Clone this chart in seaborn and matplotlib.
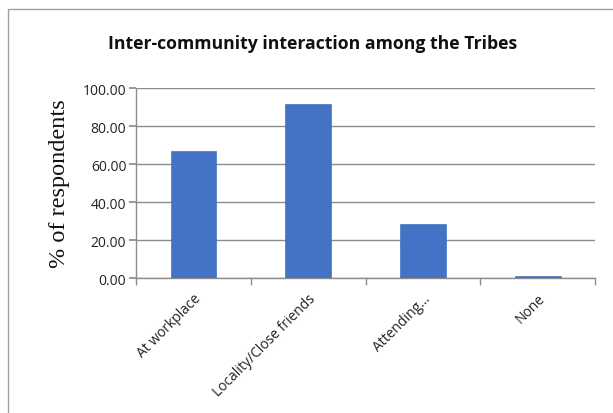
import matplotlib
matplotlib.use("Agg")
import matplotlib.pyplot as plt
import seaborn as sns
import pandas as pd
from matplotlib.patches import Rectangle

categories = ["At workplace", "Locality/Close friends", "Attending...", "None"]
values = [66.7, 91.7, 28.3, 1.0]
yticks = [0, 20, 40, 60, 80, 100]

sns.set_theme(style="white")
plt.rcParams['font.family'] = ['Open Sans', 'DejaVu Sans']

df = pd.DataFrame({"cat": categories, "val": values})

fig = plt.figure(figsize=(6.13, 4.14), dpi=100)
ax = fig.add_axes([0.222, 0.326, 0.749, 0.459])
sns.barplot(data=df, x="cat", y="val", color="#4472C4", width=0.4, ax=ax,
            saturation=1, zorder=3, edgecolor="#4472C4", linewidth=0.5)

ax.set_ylim(0, 100)
ax.set_xlim(-0.5, 3.5)
ax.set_yticks(yticks)
ax.set_yticklabels([f"{v:.2f}" for v in yticks], fontsize=10, color="#222222")
ax.yaxis.grid(True, color="#8c8c8c", linewidth=1.0, zorder=0)
ax.xaxis.grid(False)
for s in ["top", "right"]:
    ax.spines[s].set_visible(False)
ax.spines["left"].set_color("#8c8c8c")
ax.spines["bottom"].set_color("#8c8c8c")
ax.spines["left"].set_linewidth(1.0)
ax.spines["bottom"].set_linewidth(1.0)
ax.tick_params(axis="y", length=5, color="#8c8c8c", left=True, pad=2)

ax.set_xticks(range(len(categories)))
ax.set_xticklabels(categories, rotation=45, ha="right", rotation_mode="anchor",
                   fontsize=10, color="#222222")
ax.tick_params(axis="x", length=0, pad=9)
ax.set_xticks([-0.5, 0.5, 1.5, 2.5, 3.5], minor=True)
ax.tick_params(axis="x", which="minor", length=5, color="#8c8c8c", bottom=True)

ax.set_xlabel("")
ax.set_ylabel("% of respondents", family=["Liberation Serif", "DejaVu Serif"],
              fontsize=17.5, color="#111111", labelpad=9)

fig.text(0.51, 0.893, "Inter-community interaction among the Tribes",
         ha="center", va="center", fontsize=12.7, fontweight="bold", color="#111111")

fig.patches.append(Rectangle((8/613, -0.1), 1.2, 1 - 10/414 + 0.1,
                             transform=fig.transFigure, fill=False,
                             edgecolor="#a0a0a0", linewidth=1.0))

fig.savefig("out.png", dpi=100)
